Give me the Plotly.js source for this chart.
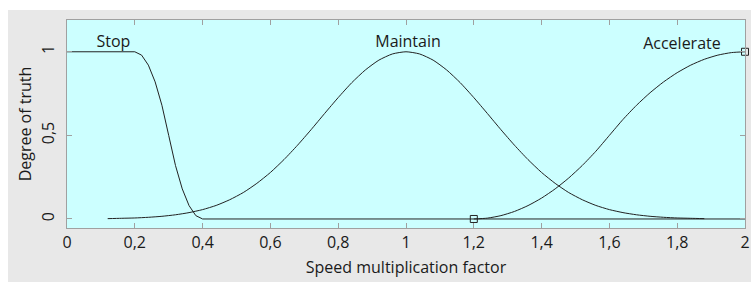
<!DOCTYPE html>
<html><head><meta charset="utf-8">
<script src="https://cdn.plot.ly/plotly-3.0.1.min.js"></script>
<style>html,body{margin:0;padding:0;background:#fff}#c{width:751px;height:282px}</style>
</head><body><div id="c"></div>
<script>
// Membership functions
const stopX = [0, 0.2, 0.22, 0.24, 0.26, 0.28, 0.30, 0.32, 0.34, 0.36, 0.38, 0.40, 2];
const stopY = [1, 1, 0.98, 0.92, 0.82, 0.68, 0.50, 0.32, 0.18, 0.08, 0.02, 0, 0];

const maintainX = [0.12,0.16,0.20,0.24,0.28,0.32,0.36,0.40,0.44,0.48,0.52,0.56,0.60,0.64,0.68,0.72,0.76,0.80,0.84,0.88,0.92,0.96,1.00,
                   1.04,1.08,1.12,1.16,1.20,1.24,1.28,1.32,1.36,1.40,1.44,1.48,1.52,1.56,1.60,1.64,1.68,1.72,1.76,1.80,1.84,1.88];
const maintainY = [0.002,0.004,0.006,0.010,0.016,0.025,0.038,0.056,0.081,0.115,0.158,0.213,0.278,0.355,0.441,0.534,0.631,0.726,0.815,0.891,0.950,0.987,1,
                   0.987,0.950,0.891,0.815,0.726,0.631,0.534,0.441,0.355,0.278,0.213,0.158,0.115,0.081,0.056,0.038,0.025,0.016,0.010,0.006,0.004,0.002];

const accelX = [1.20,1.24,1.28,1.32,1.36,1.40,1.44,1.48,1.52,1.56,1.60,1.64,1.68,1.72,1.76,1.80,1.84,1.88,1.92,1.96,2.00];
const accelY = [0,0.005,0.02,0.045,0.08,0.125,0.18,0.245,0.32,0.405,0.5,0.595,0.68,0.755,0.82,0.875,0.92,0.955,0.98,0.995,1];

const markerX = [1.2, 2];
const markerY = [0, 1];

const labelText = ["Stop", "Maintain", "Accelerate"];
const labelX = [0.137, 1.006, 1.814];
const labelY = [1.054, 1.054, 1.042];

const xTitle = "Speed multiplication factor";
const yTitle = "Degree of truth";

const lineStyle = {color: '#222', width: 1};
const FONT = "Open Sans, Noto Sans, sans-serif";
const FS = 16;
const TXT = '#1a1a1a';

const traces = [
  {x: stopX, y: stopY, mode: 'lines', line: lineStyle, hoverinfo: 'skip'},
  {x: maintainX, y: maintainY, mode: 'lines', line: Object.assign({shape: 'spline', smoothing: 0.6}, lineStyle), hoverinfo: 'skip'},
  {x: accelX, y: accelY, mode: 'lines', line: Object.assign({shape: 'spline', smoothing: 0.6}, lineStyle), hoverinfo: 'skip'},
  {x: markerX, y: markerY, mode: 'markers', marker: {symbol: 'square-open', size: 7, color: '#222', line: {width: 1, color: '#222'}}, hoverinfo: 'skip', cliponaxis: false},
  {x: labelX, y: labelY, mode: 'text', text: labelText, textposition: 'middle center', textfont: {family: FONT, size: FS, color: TXT}, hoverinfo: 'skip'}
];

const gray = '#e8e8e8';
const axisCol = '#a0a0a0';
const layout = {
  width: 751, height: 282,
  margin: {l: 67, r: 6, t: 20, b: 54, pad: 0},
  paper_bgcolor: gray,
  plot_bgcolor: '#ccffff',
  showlegend: false,
  separators: ',.',
  font: {family: FONT, size: FS, color: TXT},
  xaxis: {
    range: [0, 2], dtick: 0.2, tick0: 0, showgrid: false, zeroline: false,
    showline: true, linecolor: axisCol, linewidth: 1, mirror: 'ticks',
    ticks: 'inside', ticklen: 5, tickcolor: axisCol, tickwidth: 1,
    ticklabelstandoff: 0,
    tickfont: {family: FONT, size: FS, color: TXT},
    title: {text: xTitle, standoff: 9, font: {family: FONT, size: FS, color: TXT}}
  },
  yaxis: {
    range: [-0.054, 1.19], tickvals: [0, 0.5, 1], showgrid: false, zeroline: false,
    showline: true, linecolor: axisCol, linewidth: 1, mirror: 'ticks',
    ticks: 'inside', ticklen: 5, tickcolor: axisCol, tickwidth: 1,
    tickangle: -90, ticklabelstandoff: 6,
    tickfont: {family: FONT, size: FS, color: TXT},
    title: {text: yTitle, standoff: 0, font: {family: FONT, size: FS, color: TXT}}
  },
  shapes: [
    {type: 'rect', xref: 'paper', yref: 'paper', x0: -0.2, x1: 1.1, y0: 1 + 10/208, y1: 1.2, fillcolor: '#ffffff', line: {width: 0}, layer: 'above'},
    {type: 'rect', xref: 'paper', yref: 'paper', x0: -0.2, x1: (8-67)/678, y0: -0.4, y1: 1.2, fillcolor: '#ffffff', line: {width: 0}, layer: 'above'}
  ]
};

Plotly.newPlot('c', traces, layout, {staticPlot: true, displayModeBar: false});
</script>
</body></html>
